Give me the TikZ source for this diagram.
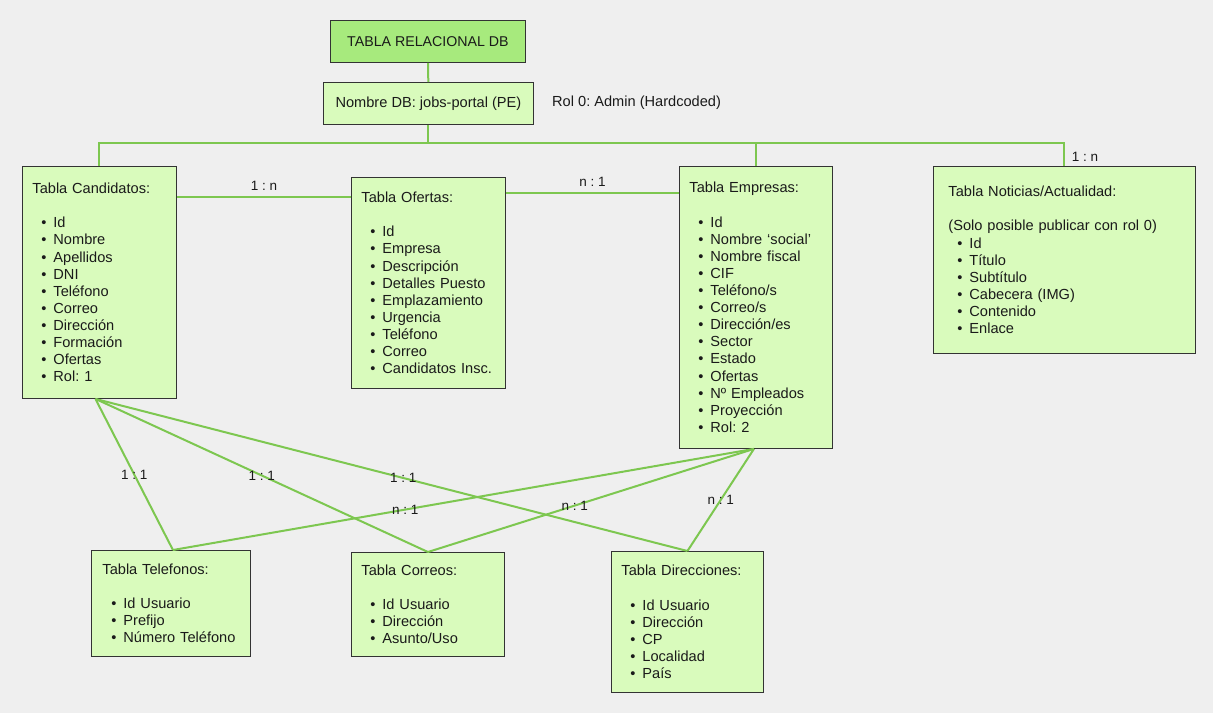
\documentclass[tikz,border=0pt]{standalone}
\usepackage{fontspec}
\setmainfont{Liberation Sans}
\usetikzlibrary{positioning}
\definecolor{bgcol}{HTML}{EFEFEF}
\definecolor{boxfill}{HTML}{D9FBBC}
\definecolor{titlefill}{HTML}{A7EA7D}
\definecolor{linkcol}{HTML}{7DC750}
\definecolor{edgecol}{HTML}{333333}
\definecolor{txtcol}{HTML}{1A1A1A}
\tikzset{
  table node/.style={draw=edgecol, fill=boxfill, line width=0.9pt, anchor=north west,
    align=left, inner xsep=10pt, inner ysep=0pt, text=txtcol,
    font=\fontsize{14.6}{17.1}\selectfont},
  head node/.style={draw=edgecol, line width=0.9pt, anchor=north west, align=center,
    text=txtcol, font=\fontsize{14.6}{16}\selectfont},
  link/.style={draw=linkcol, line width=2pt},
  rel/.style={font=\fontsize{13.5}{15}\selectfont, text=txtcol},
}
\newcommand{\itm}[1]{\makebox[21pt][l]{\hspace{9pt}\textbullet}#1}
\frenchspacing

\begin{document}
\begin{tikzpicture}[x=1pt, y=-1pt]
    \fill[bgcol] (0,0) rectangle (1213,713);
    \useasboundingbox (0,0) rectangle (1213,713);
    % Cabecera
    \node[head node, fill=titlefill, minimum width=195pt, minimum height=42pt, font=\fontsize{14.2}{16}\selectfont] (title) at (330,20) {TABLA RELACIONAL DB};
    \node[head node, fill=boxfill, minimum width=210pt, minimum height=42pt] (dbname) at (323,82) {Nombre DB: jobs-portal (PE)};
    \node[rel, font=\fontsize{14.6}{16}\selectfont, anchor=west, inner xsep=0pt] (admin) at (552,103) {Rol 0: Admin (Hardcoded)};
    % Tablas principales
    \node[table node, text width=134pt, minimum height=232pt] (cand) at (22,166) {Tabla Candidatos:\\[17.1pt]
      \itm{Id}\\ \itm{Nombre}\\ \itm{Apellidos}\\ \itm{DNI}\\ \itm{Teléfono}\\
      \itm{Correo}\\ \itm{Dirección}\\ \itm{Formación}\\ \itm{Ofertas}\\ \itm{Rol: 1}};
    \node[table node, text width=134pt, minimum height=211pt] (ofer) at (351,177) {Tabla Ofertas:\\[17.1pt]
      \itm{Id}\\ \itm{Empresa}\\ \itm{Descripción}\\ \itm{Detalles Puesto}\\ \itm{Emplazamiento}\\
      \itm{Urgencia}\\ \itm{Teléfono}\\ \itm{Correo}\\ \itm{Candidatos Insc.}};
    \node[table node, text width=133pt, minimum height=282pt] (emp) at (679,166) {Tabla Empresas:\\[17.1pt]
      \itm{Id}\\ \itm{Nombre ‘social’}\\ \itm{Nombre fiscal}\\ \itm{CIF}\\ \itm{Teléfono/s}\\
      \itm{Correo/s}\\ \itm{Dirección/es}\\ \itm{Sector}\\ \itm{Estado}\\ \itm{Ofertas}\\
      \itm{Nº Empleados}\\ \itm{Proyección}\\ \itm{Rol: 2}};
    \node[table node, inner xsep=15pt, text width=232pt, minimum height=187pt] (noti) at (933,166) {Tabla Noticias/Actualidad:\\[17.1pt]
      (Solo posible publicar con rol 0)\\
      \itm{Id}\\ \itm{Título}\\ \itm{Subtítulo}\\ \itm{Cabecera (IMG)}\\ \itm{Contenido}\\ \itm{Enlace}};
    % Tablas secundarias
    \node[table node, inner xsep=11pt, text width=137pt, minimum height=106pt] (tel) at (91,550) {Tabla Telefonos:\\[17.1pt]
      \itm{Id Usuario}\\ \itm{Prefijo}\\ \itm{Número Teléfono}};
    \node[table node, text width=133pt, minimum height=104pt] (corr) at (351,552) {Tabla Correos:\\[17.1pt]
      \itm{Id Usuario}\\ \itm{Dirección}\\ \itm{Asunto/Uso}};
    \node[table node, text width=132pt, minimum height=141pt] (dir) at (611,551) {Tabla Direcciones:\\[17.1pt]
      \itm{Id Usuario}\\ \itm{Dirección}\\ \itm{CP}\\ \itm{Localidad}\\ \itm{País}};
    % Conexiones
    \draw[link] (title) -- (dbname);
    \draw[link] (dbname.south) -- ++(0,19);
    \draw[link] (cand.north) -- ++(0,-23) -| (noti.north);
    \node[rel, above right=1pt and 4pt of noti.north] (notirel) {1 : n};
    \draw[link] (emp.north) -- ++(0,-23);
    \draw[link] ([yshift=-20pt]ofer.north west) -- ([yshift=-20pt]ofer.north west -| cand.east)
      node[rel, midway, above=2pt] {1 : n};
    \draw[link] ([yshift=-16pt]ofer.north east) -- ([yshift=-16pt]ofer.north east -| emp.west)
      node[rel, midway, above=2pt] {n : 1};
    % Relaciones inferiores
    \coordinate (candfoot) at ([xshift=-4pt]cand.south);
    \coordinate (empfoot) at ([xshift=-2pt]emp.south);
    \draw[link] (candfoot) -- ([xshift=2pt]tel.north) node[rel, pos=0.5] {1 : 1};
    \draw[link] (candfoot) -- (corr.north) node[rel, pos=0.5] {1 : 1};
    \draw[link] (candfoot) -- (dir.north) node[rel, pos=0.52] {1 : 1};
    \draw[link] (empfoot) -- ([xshift=2pt]tel.north) node[rel, pos=0.6] {n : 1};
    \draw[link] (empfoot) -- (corr.north) node[rel, pos=0.55] {n : 1};
    \draw[link] (empfoot) -- (dir.north) node[rel, pos=0.5] {n : 1};
\end{tikzpicture}
\end{document}
